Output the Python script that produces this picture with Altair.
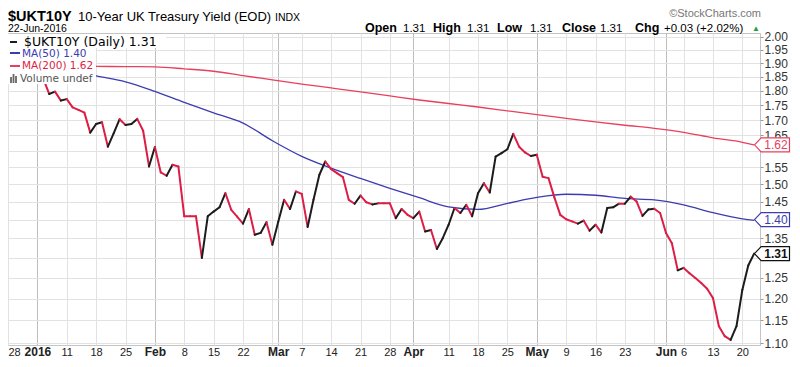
import json
import altair as alt
import pandas as pd

# ---------------- data (trading-day index 0 = 28 Dec 2015) ----------------
CLOSE = [
    1.930, 1.965, 1.960, 1.958, 1.958, 1.900, 1.844, 1.789, 1.797, 1.766,
    1.771, 1.743, 1.734, 1.725, 1.659, 1.687, 1.693, 1.614, 1.657, 1.703,
    1.684, 1.687, 1.704, 1.665, 1.553, 1.613, 1.535, 1.525, 1.558, 1.553,
    1.409, 1.409, 1.409, 1.299, 1.409, 1.422, 1.434, 1.474, 1.427, 1.408,
    1.389, 1.429, 1.359, 1.364, 1.393, 1.333, 1.394, 1.455, 1.429, 1.479,
    1.472, 1.380, 1.455, 1.528, 1.568, 1.545, 1.533, 1.521, 1.455, 1.444,
    1.467, 1.448, 1.442, 1.445, 1.445, 1.445, 1.404, 1.429, 1.413, 1.404,
    1.422, 1.368, 1.372, 1.322, 1.350, 1.386, 1.432, 1.418, 1.441, 1.409,
    1.474, 1.503, 1.476, 1.583, 1.594, 1.606, 1.655, 1.614, 1.596, 1.585,
    1.589, 1.522, 1.518, 1.462, 1.413, 1.401, 1.395, 1.389, 1.397, 1.370,
    1.386, 1.365, 1.432, 1.434, 1.444, 1.444, 1.464, 1.450, 1.410, 1.428,
    1.430, 1.418, 1.364, 1.337, 1.268, 1.274, 1.261, 1.249, 1.237, 1.223,
    1.201, 1.137, 1.115, 1.107, 1.137, 1.221, 1.280, 1.310,
]

MA_IDX = [0, 5, 10, 15, 20, 25, 30, 35, 40, 45, 50, 55, 60, 65, 70, 75, 80,
          85, 90, 95, 100, 105, 110, 115, 120, 125, 127]
MA50 = [1.930, 1.904, 1.878, 1.853, 1.832, 1.798, 1.760, 1.724, 1.690, 1.633,
        1.584, 1.548, 1.517, 1.488, 1.461, 1.435, 1.428, 1.445, 1.462, 1.471,
        1.468, 1.459, 1.455, 1.441, 1.419, 1.402, 1.398]
MA200 = [1.890, 1.890, 1.889, 1.888, 1.887, 1.886, 1.879, 1.870, 1.854, 1.839,
         1.824, 1.810, 1.796, 1.782, 1.768, 1.756, 1.744, 1.731, 1.718, 1.706,
         1.694, 1.683, 1.673, 1.660, 1.642, 1.628, 1.620]

XTICK_POS = [0, 5, 10, 15, 20, 25, 30, 35, 40, 45, 46, 50, 55, 60, 65, 69, 75,
             80, 85, 90, 95, 100, 105, 110, 112, 115, 120, 125]
XTICK_LABELS = ["28", "2016", "11", "18", "25", "Feb", "8", "15", "22", "",
                "Mar", "7", "14", "21", "28", "Apr", "11", "18", "25", "May",
                "9", "16", "23", "", "Jun", "6", "13", "20"]
MONTH_POS = [5, 25, 46, 69, 90, 112]
YTICKS = [1.10, 1.15, 1.20, 1.25, 1.30, 1.35, 1.40, 1.45, 1.50, 1.55, 1.60,
          1.65, 1.70, 1.75, 1.80, 1.85, 1.90, 1.95, 2.00]
YTICKS_HIDDEN = [1.30, 1.40, 1.60]   # covered by the last-value boxes

LAST_LABELS = ["1.62", "1.40", "1.31"]
LAST_VALUES = [1.62, 1.40, 1.31]

# ---------------- styling ----------------
W, H = 752, 312
ARIAL = "Liberation Sans, Arial, sans-serif"
VERD = "DejaVu Sans, Verdana, sans-serif"
UP = "#1c1c1c"
DOWN = "#dc1e46"
MA50C = "#3c3cb0"
MA200C = "#e8405c"

xs = alt.Scale(domain=[0, 128], nice=False, zero=False)
ys = alt.Scale(type="log", domain=[1.096, 2.015], nice=False, zero=False)

month_test = f"indexof({json.dumps(MONTH_POS)}, datum.value) >= 0"
label_expr = f"{json.dumps(XTICK_LABELS)}[indexof({json.dumps(XTICK_POS)}, datum.value)]"
hidden_test = " || ".join(f"abs(datum.value - {v}) < 0.001" for v in YTICKS_HIDDEN)

x_axis = alt.Axis(
    values=XTICK_POS, labelExpr=label_expr, title=None, grid=True,
    gridColor={"condition": {"test": month_test, "value": "#bdbdbd"}, "value": "#e2e2e2"},
    labelFontWeight={"condition": {"test": month_test, "value": "bold"}, "value": "normal"},
    labelFontSize={"condition": {"test": month_test, "value": 12}, "value": 11},
    ticks=False, domain=False, labelOverlap=False, labelFlush=True,
    labelPadding=1, labelFont=ARIAL, labelColor="#222",
)
y_axis = alt.Axis(
    orient="right", values=YTICKS, title=None, grid=True,
    labelExpr=f"({hidden_test}) ? '' : format(datum.value, '.2f')",
    gridColor="#e2e2e2", domain=False, ticks=True, tickSize=3, tickColor="#999",
    labelPadding=1, labelFont=ARIAL, labelFontSize=12, labelColor="#333",
    labelOverlap=False,
)


def X(field="x"):
    return alt.X(f"{field}:Q", scale=xs, axis=x_axis)


def Y(field="y"):
    return alt.Y(f"{field}:Q", scale=ys, axis=y_axis)


seg = pd.DataFrame({
    "x": list(range(len(CLOSE) - 1)),
    "x2": list(range(1, len(CLOSE))),
    "y": CLOSE[:-1],
    "y2": CLOSE[1:],
})
seg["dir"] = ["up" if b > a else "down" for a, b in zip(CLOSE[:-1], CLOSE[1:])]

price = alt.Chart(seg).mark_rule(strokeWidth=2, strokeCap="round").encode(
    x=X(), x2="x2:Q", y=Y(), y2="y2:Q",
    color=alt.Color("dir:N", scale=alt.Scale(domain=["up", "down"], range=[UP, DOWN]), legend=None),
)
ma50 = alt.Chart(pd.DataFrame({"x": MA_IDX, "y": MA50})).mark_line(
    color=MA50C, strokeWidth=1.3, interpolate="monotone").encode(x=X(), y=Y())
ma200 = alt.Chart(pd.DataFrame({"x": MA_IDX, "y": MA200})).mark_line(
    color=MA200C, strokeWidth=1.3, interpolate="monotone").encode(x=X(), y=Y())

ONE = alt.Data(values=[{"a": 1}])


def txt(text, x, y, size=12, weight="normal", color="#000", align="left",
        font=ARIAL, baseline="alphabetic"):
    return alt.Chart(alt.Data(values=[{"t": text}])).mark_text(
        fontSize=size, fontWeight=weight, color=color, align=align,
        font=font, baseline=baseline,
    ).encode(text="t:N", x=alt.value(x), y=alt.value(y))


def rect(x, x2, y, y2, color="white"):
    return alt.Chart(ONE).mark_rect(color=color, opacity=1).encode(
        x=alt.value(x), x2=alt.value(x2), y=alt.value(y), y2=alt.value(y2))


def rule(x, x2, y, y2, color, w=2):
    return alt.Chart(ONE).mark_rule(color=color, strokeWidth=w).encode(
        x=alt.value(x), x2=alt.value(x2), y=alt.value(y), y2=alt.value(y2))


# legend box (top-left, inside plot)
legend = [
    rect(0, 88, 1, 51), rect(88, 158, 1, 15),
    rule(2, 9, 9, 9, UP), txt("$UKT10Y (Daily) 1.31", 16, 9, size=12.5, font=VERD, baseline="middle"),
    rule(2, 12, 20, 20, MA50C), txt("MA(50) 1.40", 14, 20.5, size=10.5, font=VERD, color=MA50C, baseline="middle"),
    rule(2, 12, 33, 33, MA200C), txt("MA(200) 1.62", 14, 33, size=10.5, font=VERD, color=DOWN, baseline="middle"),
    rule(3, 3, 44, 50, "#666", 1.8), rule(5.5, 5.5, 41, 50, "#666", 1.8), rule(8, 8, 43, 50, "#666", 1.8),
    txt("Volume undef", 12, 46, size=10.5, font=VERD, color="#555", baseline="middle"),
]

# header
HY1 = -12
HY2 = -1.5
header = [
    txt("$UKT10Y", 0, HY1, size=14.5, weight="bold"),
    txt("10-Year UK Treasury Yield (EOD)", 70, HY1, size=13),
    txt("INDX", 267, HY1, size=10.5),
    txt("22-Jun-2016", 0, HY2, size=10.5),
    txt("\u00a9StockCharts.com", 753, -16, size=11, color="#777", align="right"),
    txt("Open", 357, HY2, size=12.5, weight="bold"), txt("1.31", 395, HY2, size=11.5),
    txt("High", 425, HY2, size=12.5, weight="bold"), txt("1.31", 459, HY2, size=11.5),
    txt("Low", 489, HY2, size=12.5, weight="bold"), txt("1.31", 522, HY2, size=11.5),
    txt("Close", 554, HY2, size=12.5, weight="bold"), txt("1.31", 592, HY2, size=11.5),
    txt("Chg", 627, HY2, size=12.5, weight="bold"), txt("+0.03 (+2.02%)", 656, HY2, size=11.5),
    txt("\u25b2", 744, HY2 - 1, size=8, color="#1e9e3c"),
]

# last value markers on the right axis
last_df = pd.DataFrame({"y": LAST_VALUES, "t": LAST_LABELS,
                        "c": [MA200C, MA50C, "#111"],
                        "w": ["normal", "normal", "bold"]})
BOX = "M -1 0 L -0.62 -0.4 L 1 -0.4 L 1 0.4 L -0.62 0.4 Z"
boxes = alt.Chart(last_df).mark_point(
    shape=BOX, size=1225, filled=False, fill="white", fillOpacity=1, strokeWidth=1.2, opacity=1,
).encode(x=alt.value(W + 12), y=Y(), stroke=alt.Color("c:N", scale=None))
box_txt = alt.Chart(last_df[last_df.w == "normal"]).mark_text(
    font=ARIAL, fontSize=12, align="center", baseline="middle",
).encode(x=alt.value(W + 16), y=Y(), text="t:N", color=alt.Color("c:N", scale=None))
box_txt_b = alt.Chart(last_df[last_df.w == "bold"]).mark_text(
    font=ARIAL, fontSize=12, fontWeight="bold", align="center", baseline="middle",
).encode(x=alt.value(W + 16), y=Y(), text="t:N", color=alt.Color("c:N", scale=None))

chart = alt.layer(
    ma200, ma50, price, *legend, *header, boxes, box_txt, box_txt_b,
).properties(
    width=W, height=H,
    autosize=alt.AutoSizeParams(type="none"),
    padding={"left": 0, "top": 25, "right": 32, "bottom": 13},
    background="white",
).configure_view(stroke="#c4c4c4")

chart.save("out.html", embed_options={"renderer": "svg", "actions": False})
